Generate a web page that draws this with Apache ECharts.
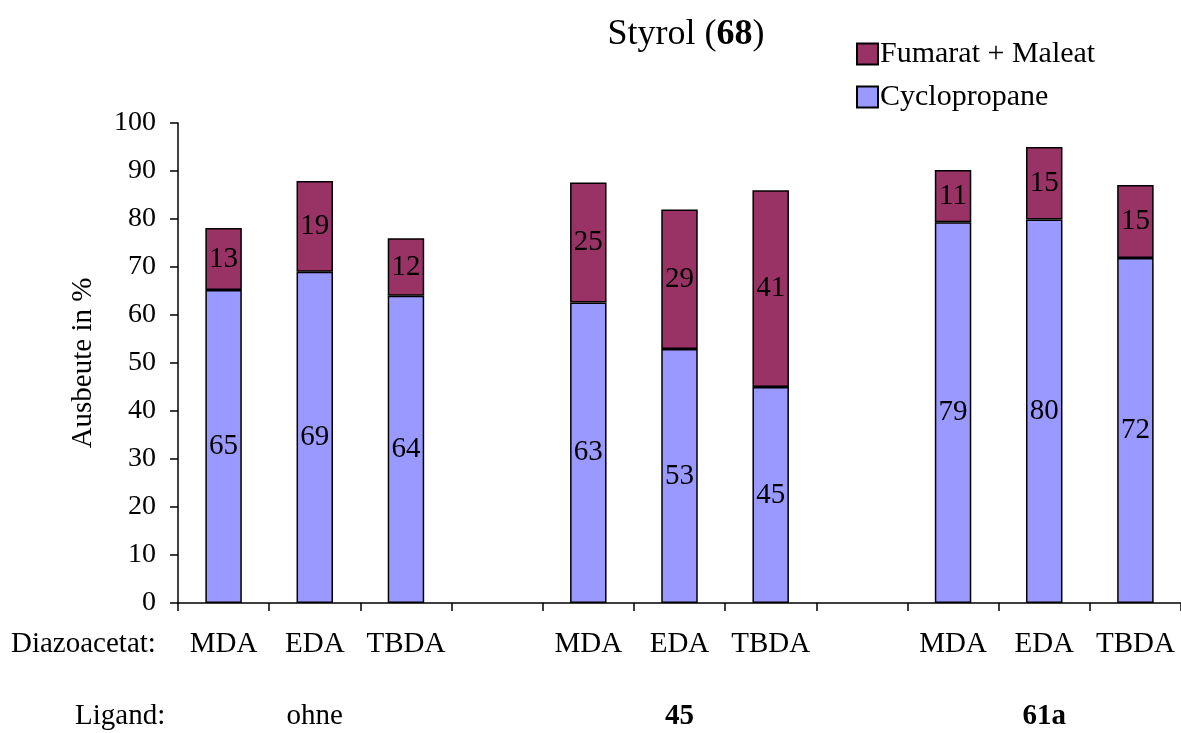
<!DOCTYPE html>
<html>
<head>
<meta charset="utf-8">
<script src="https://cdn.jsdelivr.net/npm/echarts@6/dist/echarts.min.js"></script>
<style>html,body{margin:0;padding:0;background:#fff}#c{width:1181px;height:733px}</style>
</head>
<body>
<div id="c"></div>
<script>
var categories = ['MDA', 'EDA', 'TBDA', '', 'MDA', 'EDA', 'TBDA', '', 'MDA', 'EDA', 'TBDA'];
var ligands = ['', 'ohne', '', '', '', '45', '', '', '', '61a', ''];
var ligandBold = [false, false, false, false, false, true, false, false, false, true, false];
var cyclopropane = [65.2, 69, 64, null, 62.6, 52.9, 45, null, 79.3, 79.9, 71.9];
var fumaratMaleat = [12.9, 18.9, 12, null, 25, 29.1, 41, null, 10.9, 15.1, 15.2];
var yTicks = [0, 10, 20, 30, 40, 50, 60, 70, 80, 90, 100];

var FONT = '"Liberation Serif", "Times New Roman", serif';
var FS = 29;
var chart = echarts.init(document.getElementById('c'), null, {renderer: 'canvas'});

var labelCfg = {
  show: true, position: 'inside', color: '#000', fontFamily: FONT, fontSize: FS,
  formatter: function (p) { return p.value == null ? '' : String(Math.round(p.value)); }
};

chart.setOption({
  backgroundColor: '#fff',
  animation: false,
  title: {
    text: 'Styrol ({b|68})',
    left: 681, top: 12, textAlign: 'center',
    textStyle: {
      fontFamily: FONT, fontSize: 36, fontWeight: 'normal', color: '#000',
      rich: { b: { fontFamily: FONT, fontSize: 36, fontWeight: 'bold', color: '#000' } }
    }
  },
  legend: {
    orient: 'vertical', left: 851, top: 34,
    icon: 'rect',
    itemWidth: 21, itemHeight: 21, itemGap: 13,
    data: ['Fumarat + Maleat', 'Cyclopropane'],
    textStyle: { fontFamily: FONT, fontSize: 30, color: '#000', padding: [0, 0, 0, -3] },
    itemStyle: { borderColor: '#000', borderWidth: 2 }
  },
  grid: { left: 178, right: -7, top: 123, bottom: 130, containLabel: false },
  xAxis: [{
    type: 'category', data: categories, position: 'bottom',
    axisLine: { show: true, lineStyle: { color: '#000', width: 1.5 } },
    axisTick: { show: true, inside: false, length: 8, lineStyle: { color: '#000', width: 1.5 } },
    axisLabel: { interval: 0, margin: 27, color: '#000', fontFamily: FONT, fontSize: FS }
  }, {
    type: 'category', data: ligands, position: 'bottom',
    axisLine: { show: false }, axisTick: { show: false },
    axisLabel: {
      interval: 0, margin: 99, color: '#000', fontFamily: FONT, fontSize: FS,
      formatter: function (v, i) { return ligandBold[i] ? '{b|' + v + '}' : v; },
      rich: { b: { fontFamily: FONT, fontSize: FS, fontWeight: 'bold', color: '#000' } }
    }
  }],
  yAxis: {
    type: 'value', min: yTicks[0], max: yTicks[yTicks.length - 1], interval: 10,
    name: 'Ausbeute in %', nameLocation: 'middle', nameGap: 80, nameRotate: 90,
    nameTextStyle: { fontFamily: FONT, fontSize: FS, color: '#000' },
    axisLine: { show: true, lineStyle: { color: '#000', width: 1.5 } },
    axisTick: { show: true, inside: false, length: 8, lineStyle: { color: '#000', width: 1.5 } },
    splitLine: { show: false },
    axisLabel: { margin: 22, color: '#000', fontFamily: FONT, fontSize: 28 }
  },
  graphic: [
    { type: 'text', left: 11, top: 630, style: { text: 'Diazoacetat:', fontFamily: FONT, fontSize: FS, fill: '#000' } },
    { type: 'text', left: 75, top: 702, style: { text: 'Ligand:', fontFamily: FONT, fontSize: FS, fill: '#000' } }
  ],
  series: [{
    name: 'Cyclopropane', type: 'bar', stack: 's', data: cyclopropane, barWidth: '40%',
    itemStyle: { color: '#9999FF', borderColor: '#000', borderWidth: 1.5 },
    label: labelCfg
  }, {
    name: 'Fumarat + Maleat', type: 'bar', stack: 's', data: fumaratMaleat, barWidth: '40%',
    itemStyle: { color: '#993366', borderColor: '#000', borderWidth: 1.5 },
    label: labelCfg
  }]
});
</script>
</body>
</html>
